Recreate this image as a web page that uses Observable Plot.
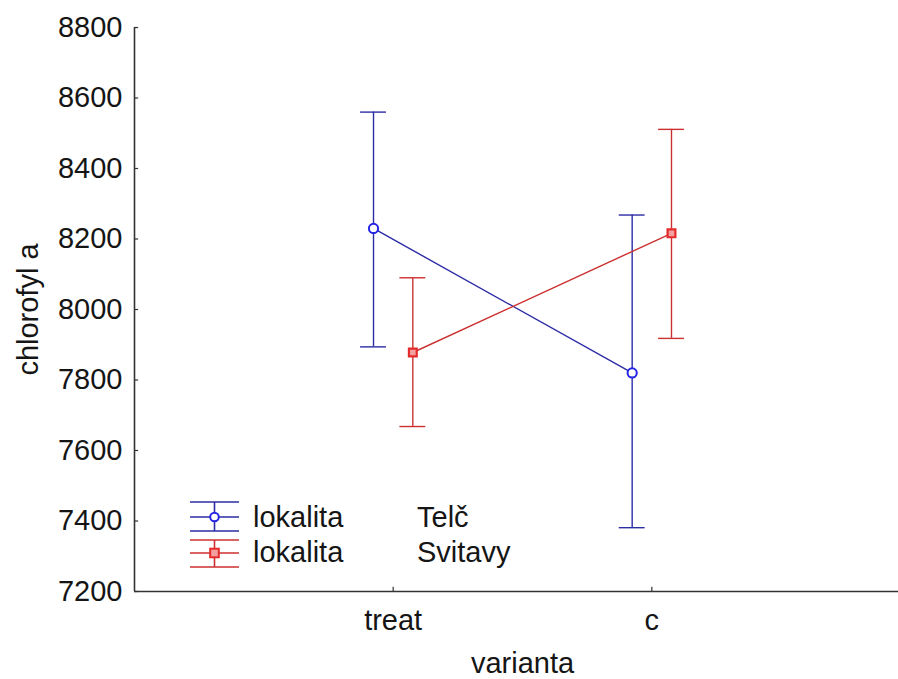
<!DOCTYPE html>
<html>
<head>
<meta charset="utf-8">
<script src="https://cdn.jsdelivr.net/npm/d3@7"></script>
<script src="https://cdn.jsdelivr.net/npm/@observablehq/plot@0.6"></script>
<style>
  html, body { margin: 0; padding: 0; background: #fff; overflow: hidden; }
  #wrap { position: relative; width: 898px; height: 679px; }
  #legend { position: absolute; left: 0; top: 0; }
  text { font-family: "Liberation Sans", Arial, sans-serif; }
</style>
</head>
<body>
<div id="wrap"></div>
<script>
// ---- data ----
const categories = ["treat", "c"];
const seriesNames = ["Telč", "Svitavy"];
const telcMean = [8230, 7820];
const telcLow = [7894, 7381];
const telcHigh = [8560, 8268];
const svitMean = [7878, 8216];
const svitLow = [7668, 7918];
const svitHigh = [8090, 8511];
const yTicks = [7200, 7400, 7600, 7800, 8000, 8200, 8400, 8600, 8800];
const legendPrefix = "lokalita";

// ---- styling ----
const blueBar = "#2c2ca6";
const blueMark = "#2424e6";
const redBar = "#cc3030";
const redMark = "#e42a2a";
const axisColor = "#333";
const textColor = "#151515";
const offset = 0.076;   // horizontal dodge of the two series (x units)
const capHalf = 0.05;   // half-width of error bar caps (x units)

const rows = categories.flatMap((c, i) => [
  {series: seriesNames[0], cat: c, xpos: i + 1 - offset, mean: telcMean[i], low: telcLow[i], high: telcHigh[i]},
  {series: seriesNames[1], cat: c, xpos: i + 1 + offset, mean: svitMean[i], low: svitLow[i], high: svitHigh[i]}
]);
const colorBar = d => d.series === seriesNames[0] ? blueBar : redBar;
const telc = rows.filter(d => d.series === seriesNames[0]);
const svit = rows.filter(d => d.series === seriesNames[1]);

const chart = Plot.plot({
  width: 898,
  height: 679,
  marginLeft: 134,
  marginRight: 0,
  marginTop: 27,
  marginBottom: 88,
  x: {domain: [0, 3], range: [134, 910]},
  y: {domain: [7200, 8800], range: [591, 27]},
  style: {fontFamily: '"Liberation Sans", Arial, sans-serif', fontSize: "29px", color: textColor, background: "#fff"},
  marks: [
    // axes lines
    Plot.ruleX([0], {y1: 7200, y2: 8800, stroke: axisColor, strokeWidth: 1.6}),
    Plot.ruleY([7200], {x1: 0, x2: 3, stroke: axisColor, strokeWidth: 1.6}),
    // inward ticks
    Plot.ruleY(yTicks, {y: d => d, x1: 0, x2: 0.016, stroke: axisColor, strokeWidth: 1.2}),
    Plot.ruleX([1, 2], {x: d => d, y1: 7200, y2: 7212, stroke: axisColor, strokeWidth: 1.2}),
    Plot.axisY({ticks: yTicks, tickSize: 0, tickPadding: 12, tickFormat: d => String(d), label: null, fill: textColor}),
    Plot.axisX({ticks: [1, 2], tickSize: 0, tickPadding: 18, tickFormat: d => categories[d - 1], label: null, fill: textColor}),
    Plot.text(["chlorofyl a"], {x: 0, y: 8000, text: d => d, rotate: -90, dx: -106, fill: textColor}),
    Plot.text(["varianta"], {x: 1.5, y: 7200, text: d => d, dy: 72, fill: textColor}),
    // error bars
    Plot.ruleX(rows, {x: "xpos", y1: "low", y2: "high", stroke: colorBar, strokeWidth: 1.4}),
    Plot.ruleY(rows, {y: "high", x1: d => d.xpos - capHalf, x2: d => d.xpos + capHalf, stroke: colorBar, strokeWidth: 1.4}),
    Plot.ruleY(rows, {y: "low", x1: d => d.xpos - capHalf, x2: d => d.xpos + capHalf, stroke: colorBar, strokeWidth: 1.4}),
    // connecting lines
    Plot.line(telc, {x: "xpos", y: "mean", stroke: blueBar, strokeWidth: 1.4}),
    Plot.line(svit, {x: "xpos", y: "mean", stroke: redBar, strokeWidth: 1.4}),
    // markers
    Plot.dot(telc, {x: "xpos", y: "mean", symbol: "circle", r: 4.6, stroke: blueMark, strokeWidth: 2, fill: "#fff"}),
    Plot.dot(svit, {x: "xpos", y: "mean", symbol: "square", r: 4.4, stroke: redMark, strokeWidth: 2.2, fill: "#f4a0a0"})
  ]
});

const wrap = document.getElementById("wrap");
wrap.appendChild(chart);

// ---- legend overlay ----
const ns = "http://www.w3.org/2000/svg";
const leg = document.createElementNS(ns, "svg");
leg.setAttribute("id", "legend");
leg.setAttribute("width", 898);
leg.setAttribute("height", 679);
const legendItems = [
  {name: seriesNames[0], bar: blueBar, mark: blueMark, sym: "circle", top: 502, mid: 517, bot: 531, base: 527},
  {name: seriesNames[1], bar: redBar, mark: redMark, sym: "square", top: 540, mid: 553, bot: 567, base: 562}
];
function el(tag, attrs, txt) {
  const e = document.createElementNS(ns, tag);
  for (const k in attrs) e.setAttribute(k, attrs[k]);
  if (txt) e.textContent = txt;
  leg.appendChild(e);
  return e;
}
for (const it of legendItems) {
  const x0 = 190, x1 = 239, cx = 214.5;
  for (const yy of [it.top, it.mid, it.bot]) el("line", {x1: x0, x2: x1, y1: yy, y2: yy, stroke: it.bar, "stroke-width": 1.6});
  el("line", {x1: cx, x2: cx, y1: it.top, y2: it.bot, stroke: it.bar, "stroke-width": 1.6});
  if (it.sym === "circle") el("circle", {cx, cy: it.mid, r: 4.3, fill: "#fff", stroke: it.mark, "stroke-width": 2});
  else el("rect", {x: cx - 4.3, y: it.mid - 4.3, width: 8.6, height: 8.6, fill: "#f4a0a0", stroke: it.mark, "stroke-width": 2});
  el("text", {x: 253, y: it.base, fill: textColor, "font-size": 29}, legendPrefix);
  el("text", {x: 417, y: it.base, fill: textColor, "font-size": 29}, it.name);
}
wrap.appendChild(leg);
</script>
</body>
</html>
